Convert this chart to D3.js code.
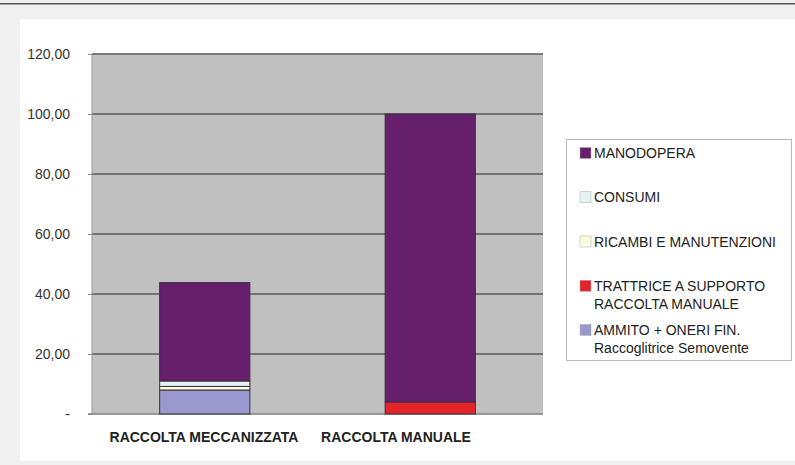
<!DOCTYPE html>
<html><head><meta charset="utf-8">
<script src="https://cdn.jsdelivr.net/npm/d3@7/dist/d3.min.js"></script>
<style>body{margin:0;background:#f0f0f0;}svg{display:block;font-family:"Liberation Sans",Arial,sans-serif;}</style>
</head><body><svg id="c" width="795" height="465"></svg>
<script>
const categories = ["RACCOLTA MECCANIZZATA", "RACCOLTA MANUALE"];
const seriesNames = ["AMMITO + ONERI FIN. Raccoglitrice Semovente", "TRATTRICE A SUPPORTO RACCOLTA MANUALE", "RICAMBI E MANUTENZIONI", "CONSUMI", "MANODOPERA"];
const ammito = [8.0, 0];
const trattrice = [0, 4.0];
const ricambi = [1.2, 0];
const consumi = [1.8, 0];
const manodopera = [32.8, 96.0];
const yTicks = [0, 20, 40, 60, 80, 100, 120];
const yTickLabels = ["-", "20,00", "40,00", "60,00", "80,00", "100,00", "120,00"];
const legendOrder = [
  {name: "MANODOPERA", lines: ["MANODOPERA"], color: "#661f6b"},
  {name: "CONSUMI", lines: ["CONSUMI"], color: "#e4f2f2"},
  {name: "RICAMBI E MANUTENZIONI", lines: ["RICAMBI E MANUTENZIONI"], color: "#fbfbdf"},
  {name: "TRATTRICE", lines: ["TRATTRICE A SUPPORTO", "RACCOLTA MANUALE"], color: "#e5232b"},
  {name: "AMMITO", lines: ["AMMITO + ONERI FIN.", "Raccoglitrice Semovente"], color: "#9a98cc"}
];
const colors = ["#9a98cc", "#e5232b", "#fbfbdf", "#e4f2f2", "#661f6b"];
const seriesData = [ammito, trattrice, ricambi, consumi, manodopera];

const svg = d3.select("#c");
svg.append("rect").attr("x",0).attr("y",3).attr("width",795).attr("height",1.5).attr("fill","#555");
svg.append("rect").attr("x",20).attr("y",19).attr("width",775).attr("height",442).attr("fill","#fff");

const x = d3.scaleBand().domain(categories).range([92, 543]).paddingInner(0.6).paddingOuter(0.3);
const y = d3.scaleLinear().domain([0, 120]).range([414, 54]);
const xLabel = d3.scalePoint().domain(categories).range([204, 396]);

svg.append("rect").attr("x",92).attr("y",y(120)).attr("width",451).attr("height",y(0)-y(120)).attr("fill","#c0c0c0");
svg.append("g").selectAll("line").data(yTicks.filter(d=>d>0)).join("line")
  .attr("x1",92).attr("x2",543).attr("y1",d=>y(d)).attr("y2",d=>y(d))
  .attr("stroke","#5a5a5a").attr("stroke-width",1.5);
svg.append("line").attr("x1",92).attr("x2",92).attr("y1",y(120)).attr("y2",y(0)).attr("stroke","#999").attr("stroke-width",1);
svg.append("line").attr("x1",88).attr("x2",543).attr("y1",y(0)).attr("y2",y(0)).attr("stroke","#808080").attr("stroke-width",1.5);

const yAxis = d3.axisLeft(y).tickValues(yTicks).tickFormat((d,i)=>yTickLabels[i]).tickSize(4).tickPadding(18);
const ga = svg.append("g").attr("transform","translate(92,0)").call(yAxis);
ga.select(".domain").remove();
ga.selectAll(".tick line").attr("stroke","#888");
ga.selectAll("text").attr("font-size",14).attr("fill","#333").attr("font-family","Liberation Sans, Arial, sans-serif");

const rows = categories.map((c,i)=>{const o={cat:c}; seriesData.forEach((s,k)=>o["s"+k]=s[i]); return o;});
const stack = d3.stack().keys(seriesData.map((s,k)=>"s"+k))(rows);
svg.append("g").selectAll("g").data(stack).join("g").attr("fill",(d,k)=>colors[k])
  .selectAll("rect").data(d=>d.filter(p=>p[1]-p[0]>0)).join("rect")
  .attr("x",d=>x(d.data.cat)).attr("width",x.bandwidth())
  .attr("y",d=>y(d[1])).attr("height",d=>y(d[0])-y(d[1]))
  .attr("stroke","#3a3040").attr("stroke-width",1);

svg.append("g").selectAll("text").data(categories).join("text")
  .attr("x",d=>xLabel(d)).attr("y",442).attr("text-anchor","middle")
  .attr("font-weight","bold").attr("font-size",14).attr("fill","#222").text(d=>d);

const lg = svg.append("g");
lg.append("rect").attr("x",566.5).attr("y",139.5).attr("width",225).attr("height",221).attr("fill","#fff").attr("stroke","#bbb");
const ly = d3.scalePoint().domain(legendOrder.map(d=>d.name)).range([153, 330]);
const items = lg.selectAll("g").data(legendOrder).join("g").attr("transform",d=>`translate(580,${ly(d.name)})`);
items.append("rect").attr("x",0).attr("y",-5.5).attr("width",11).attr("height",11).attr("fill",d=>d.color).attr("stroke","#aaa").attr("stroke-width",0.5);
items.append("text").attr("x",14).attr("y",5).attr("font-size",14).attr("fill","#222")
  .selectAll("tspan").data(d=>d.lines).join("tspan").attr("x",14).attr("dy",(d,i)=>i?18:0).text(d=>d);
</script></body></html>
